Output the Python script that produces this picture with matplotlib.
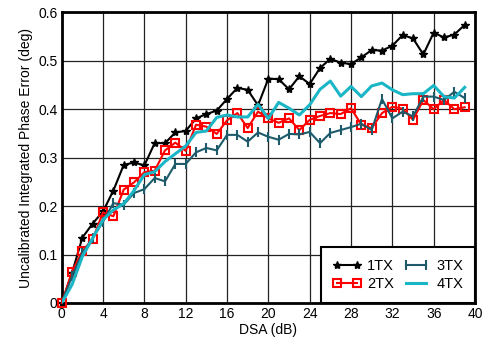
import matplotlib
matplotlib.use("Agg")
import matplotlib.pyplot as plt
import numpy as np

plt.rcParams["font.family"] = ["Liberation Sans", "DejaVu Sans"]

dsa = np.arange(0, 40)

tx1 = [0.000, 0.062, 0.135, 0.164, 0.189, 0.232, 0.285, 0.290, 0.284, 0.330,
       0.330, 0.352, 0.355, 0.381, 0.390, 0.397, 0.421, 0.444, 0.440, 0.408,
       0.463, 0.462, 0.441, 0.468, 0.452, 0.485, 0.504, 0.496, 0.493, 0.507,
       0.522, 0.521, 0.531, 0.553, 0.546, 0.513, 0.558, 0.548, 0.554, 0.574]
tx2 = [0.000, 0.065, 0.107, 0.132, 0.187, 0.179, 0.234, 0.249, 0.270, 0.273,
       0.315, 0.331, 0.314, 0.368, 0.364, 0.349, 0.377, 0.392, 0.361, 0.395,
       0.381, 0.372, 0.381, 0.357, 0.378, 0.386, 0.392, 0.390, 0.402, 0.368,
       0.361, 0.392, 0.405, 0.401, 0.378, 0.419, 0.400, 0.419, 0.400, 0.404]
tx3 = [0.000, 0.055, 0.103, 0.134, 0.168, 0.206, 0.203, 0.227, 0.235, 0.258,
       0.251, 0.287, 0.287, 0.311, 0.320, 0.315, 0.347, 0.347, 0.333, 0.352,
       0.343, 0.337, 0.349, 0.348, 0.353, 0.330, 0.351, 0.357, 0.363, 0.370,
       0.357, 0.421, 0.381, 0.395, 0.385, 0.426, 0.426, 0.419, 0.436, 0.423]
tx4 = [0.000, 0.038, 0.096, 0.134, 0.172, 0.192, 0.205, 0.232, 0.265, 0.271,
       0.292, 0.308, 0.324, 0.352, 0.355, 0.383, 0.388, 0.384, 0.384, 0.410,
       0.381, 0.414, 0.402, 0.388, 0.409, 0.441, 0.458, 0.427, 0.447, 0.426,
       0.448, 0.454, 0.440, 0.430, 0.432, 0.432, 0.449, 0.426, 0.423, 0.445]

fig = plt.figure(figsize=(4.84, 3.47), dpi=100)
ax = fig.add_axes([61.7 / 484, 1 - 303 / 347, (475 - 61.7) / 484, (303 - 12.3) / 347])

ax.plot(dsa, tx1, color="black", lw=1.5, marker="*", ms=6, label="1TX", zorder=3, clip_on=False)
ax.plot(dsa, tx2, color="#ff0000", lw=1.5, marker="s", ms=6, mfc="none", mew=1.5,
        label="2TX", zorder=3, clip_on=False)
ax.plot(dsa, tx3, color="#1d5b6b", lw=1.5, marker="|", ms=7, mew=1.5, label="3TX", zorder=3)
ax.plot(dsa, tx4, color="#1ab6c6", lw=2.2, label="4TX", zorder=3)

ax.set_xlim(0, 40)
ax.set_ylim(0, 0.6)
ax.set_xticks(range(0, 41, 4))
ax.set_yticks(np.arange(0, 0.61, 0.1))
ax.set_yticklabels(["0", "0.1", "0.2", "0.3", "0.4", "0.5", "0.6"])
ax.tick_params(labelsize=10, length=0, pad=3)
ax.grid(True, color="#222222", lw=0.9)
for s in ax.spines.values():
    s.set_linewidth(2)
ax.set_xlabel("DSA (dB)", fontsize=10, labelpad=1)
ax.set_ylabel("Uncalibrated Integrated Phase Error (deg)", fontsize=10, labelpad=4)

leg = ax.legend(loc="lower right", ncol=2, fontsize=10.5, frameon=True, fancybox=False,
                borderaxespad=0, numpoints=2, handlelength=2.0, columnspacing=0.5,
                handletextpad=0.4, labelspacing=0.3, borderpad=0.8)
leg.get_frame().set_edgecolor("black")
leg.get_frame().set_linewidth(1.5)
leg.get_frame().set_alpha(1)
leg.set_zorder(5)

fig.savefig("out.png", dpi=100)
